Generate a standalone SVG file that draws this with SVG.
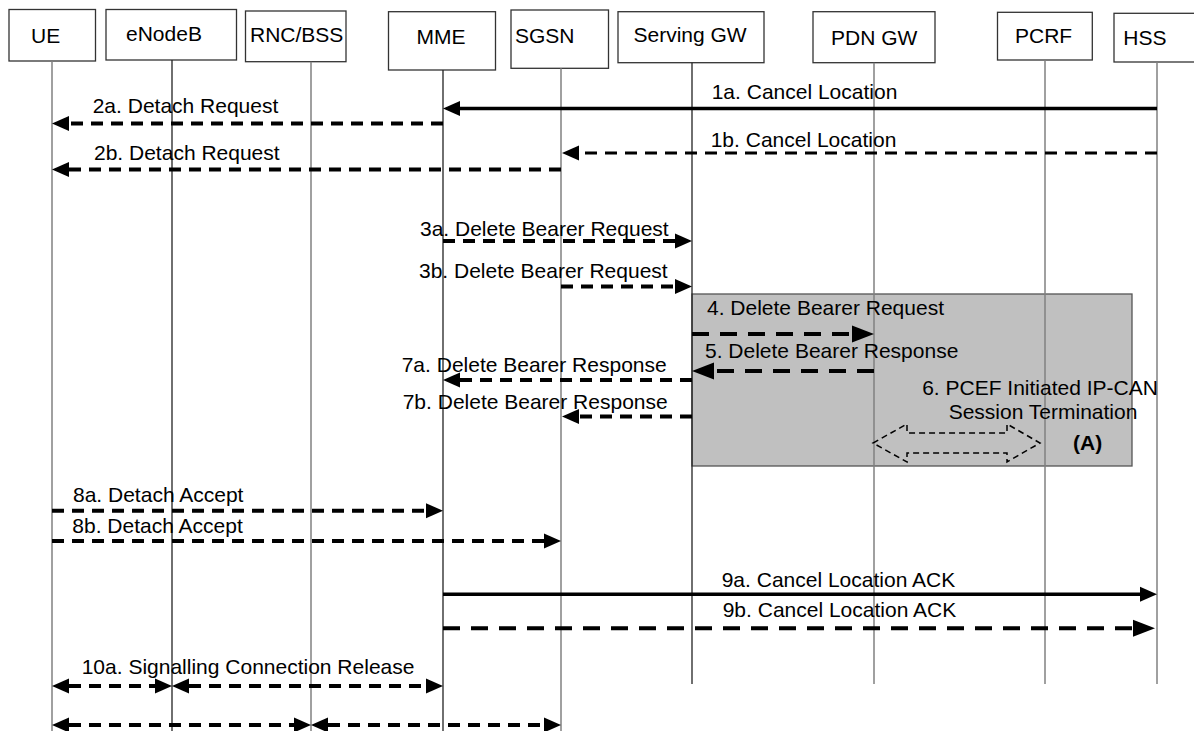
<svg xmlns="http://www.w3.org/2000/svg" width="1194" height="731" viewBox="0 0 1194 731">
<style>
text{font-family:"Liberation Sans",Arial,Helvetica,sans-serif;font-size:21px;fill:#000}
.box{fill:#fff;stroke:#333;stroke-width:1.3}
.life{stroke:#808080;stroke-width:1.5}
.lifeK{stroke:#222;stroke-width:1.3}
.s{stroke:#000;stroke-width:3.5;fill:none}
.d{stroke:#000;stroke-width:4;stroke-dasharray:12 8;fill:none}
.dl{stroke:#000;stroke-width:4;stroke-dasharray:17 11;fill:none}
.dt{stroke:#000;stroke-width:3;stroke-dasharray:12 8;fill:none}
.a{marker-end:url(#ah)}
.aL{marker-end:url(#ahL)}
.aa{marker-start:url(#ah);marker-end:url(#ah)}
</style>
<defs>
<marker id="ah" markerUnits="userSpaceOnUse" viewBox="0 -8 17 16" markerWidth="17" markerHeight="16" refX="0" refY="0" orient="auto-start-reverse"><path d="M0,-7.5 L17,0 L0,7.5 z" fill="#000"/></marker>
<marker id="ahL" markerUnits="userSpaceOnUse" viewBox="0 -9 22 18" markerWidth="22" markerHeight="18" refX="0" refY="0" orient="auto-start-reverse"><path d="M0,-8.5 L22,0 L0,8.5 z" fill="#000"/></marker>
</defs>
<rect width="1194" height="731" fill="#fff"/>

<g id="regionA">
<rect x="692" y="294" width="440" height="172" fill="#c0c0c0" stroke="#555" stroke-width="1.3"/>
</g>

<g id="node-UE"><rect class="box" x="9" y="9.5" width="86.5" height="51.5"/><text x="31" y="42.7">UE</text><line class="life" x1="52" y1="61" x2="52" y2="731"/></g>
<g id="node-eNodeB"><rect class="box" x="106" y="9.5" width="130.5" height="50.5"/><text x="126" y="40.7">eNodeB</text><line class="lifeK" x1="172" y1="60" x2="172" y2="731"/></g>
<g id="node-RNCBSS"><rect class="box" x="245.5" y="11" width="100.5" height="50.7"/><text x="250" y="41.7">RNC/BSS</text><line class="life" x1="311" y1="61.7" x2="311" y2="731"/></g>
<g id="node-MME"><rect class="box" x="388.5" y="11.7" width="107" height="58.3"/><text x="416.5" y="44">MME</text><line class="lifeK" x1="443" y1="70" x2="443" y2="731"/></g>
<g id="node-SGSN"><rect class="box" x="511" y="10" width="97.5" height="58.3"/><text x="515" y="42.7">SGSN</text><line class="life" x1="561" y1="68.3" x2="561" y2="731"/></g>
<g id="node-SGW"><rect class="box" x="618" y="11.7" width="146" height="51"/><text x="633.5" y="41.7">Serving GW</text><line class="lifeK" x1="692" y1="62.7" x2="692" y2="684"/></g>
<g id="node-PDNGW"><rect class="box" x="813" y="11.7" width="122" height="51"/><text x="831" y="45">PDN GW</text><line class="life" x1="874" y1="62.7" x2="874" y2="684"/></g>
<g id="node-PCRF"><rect class="box" x="997.5" y="12.3" width="94.8" height="47.7"/><text x="1015" y="42.7">PCRF</text><line class="life" x1="1045" y1="60" x2="1045" y2="684"/></g>
<g id="node-HSS"><rect class="box" x="1114" y="13.3" width="90" height="48.7"/><text x="1123.3" y="45">HSS</text><line class="life" x1="1157" y1="62" x2="1157" y2="684"/></g>

<g id="regionA-content">
<text x="1040" y="394.5" text-anchor="middle">6. PCEF Initiated IP-CAN</text>
<text x="1043" y="419.3" text-anchor="middle">Session Termination</text>
<text x="1073" y="450" font-weight="bold">(A)</text>
<path d="M873,443 L907,424 L907,433 L1007,433 L1007,424 L1040,443 L1007,462 L1007,453 L907,453 L907,462 Z" fill="none" stroke="#000" stroke-width="1.5" stroke-dasharray="6 4"/>
</g>

<g id="connectors">
<line class="s a" x1="1157" y1="108.5" x2="460" y2="108.5"/>
<line class="d a" x1="443" y1="123.5" x2="69" y2="123.5"/>
<line class="dt a" x1="1157" y1="153" x2="579" y2="153"/>
<line class="d a" x1="561" y1="169.5" x2="69" y2="169.5"/>
<line class="d a" x1="443" y1="241" x2="675" y2="241"/>
<line class="d a" x1="561" y1="286.5" x2="675" y2="286.5"/>
<line class="dl aL" x1="692" y1="334" x2="852" y2="334"/>
<line class="dl aL" x1="874" y1="371" x2="714" y2="371"/>
<line class="d a" x1="692" y1="380" x2="460" y2="380"/>
<line class="d a" x1="692" y1="416.5" x2="579" y2="416.5"/>
<line class="d a" x1="52" y1="510.7" x2="426" y2="510.7"/>
<line class="d a" x1="52" y1="541" x2="544" y2="541"/>
<line class="s a" x1="443" y1="594.3" x2="1140" y2="594.3"/>
<line class="dl aL" x1="443" y1="628.3" x2="1133" y2="628.3"/>
<line class="d aa" x1="69" y1="686" x2="155" y2="686"/>
<line class="d aa" x1="189" y1="686" x2="426" y2="686"/>
<line class="d aa" x1="69" y1="725" x2="294" y2="725"/>
<line class="d aa" x1="328" y1="725" x2="544" y2="725"/>
</g>

<g id="labels">
<text x="711.7" y="99">1a. Cancel Location</text>
<text x="92.7" y="112.7">2a. Detach Request</text>
<text x="710.7" y="146.7">1b. Cancel Location</text>
<text x="94" y="160">2b. Detach Request</text>
<text x="420" y="236">3a. Delete Bearer Request</text>
<text x="419" y="278.3">3b. Delete Bearer Request</text>
<text x="707" y="315">4. Delete Bearer Request</text>
<text x="705" y="357.7">5. Delete Bearer Response</text>
<text x="401.7" y="371.7">7a. Delete Bearer Response</text>
<text x="402.7" y="409">7b. Delete Bearer Response</text>
<text x="73" y="501.7">8a. Detach Accept</text>
<text x="72.3" y="533.3">8b. Detach Accept</text>
<text x="721.7" y="586.7">9a. Cancel Location ACK</text>
<text x="722.7" y="617.3">9b. Cancel Location ACK</text>
<text x="81.7" y="674">10a. Signalling Connection Release</text>
</g>
</svg>
